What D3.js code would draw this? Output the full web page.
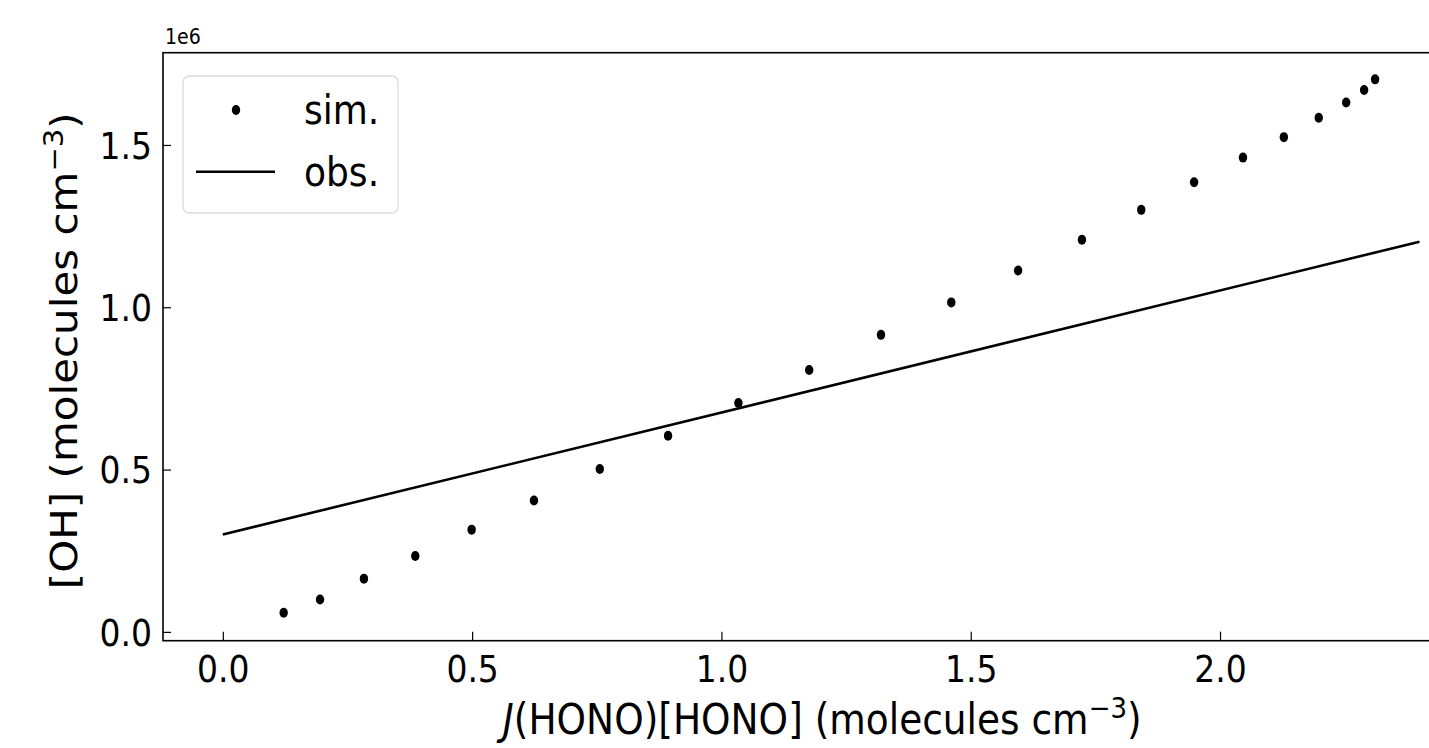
<!DOCTYPE html>
<html>
<head>
<meta charset="utf-8">
<script src="https://cdn.jsdelivr.net/npm/d3@7"></script>
<style>
	body { margin: 0; background: #fff; }
	svg { display: block; }
	text { font-family: "DejaVu Sans", sans-serif; fill: #000; }
	.domain { display: none; }
	.tick line { stroke: #000; stroke-width: 1.2; }
</style>
</head>
<body>
<script>

// Simulated OH vs J(HONO)[HONO]
var simX = [0.122, 0.195, 0.283, 0.386, 0.499, 0.624, 0.756, 0.893, 1.034, 1.176, 1.320,
	1.461, 1.595, 1.723, 1.842, 1.948, 2.046, 2.128, 2.198, 2.253, 2.289, 2.311];
var simY = [0.059e6, 0.100e6, 0.164e6, 0.234e6, 0.315e6, 0.405e6, 0.502e6, 0.604e6, 0.705e6,
	0.807e6, 0.915e6, 1.015e6, 1.113e6, 1.208e6, 1.300e6, 1.385e6, 1.461e6, 1.524e6,
	1.584e6, 1.631e6, 1.669e6, 1.702e6];

// Observed fit line
var obsX = [0.0, 2.4];
var obsY = [0.300e6, 1.202e6];

var xTicks = [0.0, 0.5, 1.0, 1.5, 2.0];
var yTicks = [0.0, 0.5e6, 1.0e6, 1.5e6];
var legendLabels = ["sim.", "obs."];

var W = 1429, H = 748;
var plot = { left: 163, right: 1479.3, top: 52.7, bottom: 640.7 };
var stretch = 1.12; // picture is a bit taller than wide

var svg = d3.select("body").append("svg").attr("width", W).attr("height", H);

// 5% margins like matplotlib
var allX = simX.concat(obsX), allY = simY.concat(obsY);
var xr = d3.extent(allX), yr = d3.extent(allY);
var xpad = (xr[1] - xr[0]) * 0.05, ypad = (yr[1] - yr[0]) * 0.05;

var x = d3.scaleLinear().domain([xr[0] - xpad, xr[1] + xpad]).range([plot.left, plot.right]);
var y = d3.scaleLinear().domain([yr[0] - ypad - 0.004e6, yr[1] + ypad]).range([plot.bottom, plot.top]);

svg.append("clipPath").attr("id", "clip").append("rect")
	.attr("x", plot.left).attr("y", plot.top)
	.attr("width", plot.right - plot.left).attr("height", plot.bottom - plot.top);

// Axes (ticks inward)
var xAxis = d3.axisBottom(x).tickValues(xTicks).tickSize(-9).tickFormat(d3.format(".1f"));
var gx = svg.append("g").attr("transform", "translate(0," + plot.bottom + ")").call(xAxis);
gx.selectAll("text").attr("y", null).attr("dy", null)
	.style("font-size", "33px")
	.attr("transform", "translate(0,41) scale(1," + stretch + ")");

var yAxis = d3.axisLeft(y).tickValues(yTicks).tickSize(-8).tickFormat(function(d) { return (d / 1e6).toFixed(1); });
var gy = svg.append("g").attr("transform", "translate(" + plot.left + ",0)").call(yAxis);
gy.selectAll("text").attr("x", null).attr("dy", "0.36em")
	.style("font-size", "33px")
	.attr("transform", "translate(-11,0) scale(1," + stretch + ")");

// Spines
svg.append("rect").attr("x", plot.left).attr("y", plot.top)
	.attr("width", plot.right - plot.left).attr("height", plot.bottom - plot.top)
	.attr("fill", "none").attr("stroke", "#000").attr("stroke-width", 1.6);

// Offset text
svg.append("text").attr("transform", "translate(165,44) scale(1," + stretch + ")")
	.style("font-size", "19px").text("1e6");

// Obs line
var line = d3.line().x(function(d) { return x(d[0]); }).y(function(d) { return y(d[1]); });
svg.append("path").datum(d3.zip(obsX, obsY)).attr("clip-path", "url(#clip)")
	.attr("d", line).attr("fill", "none").attr("stroke", "#000").attr("stroke-width", 2.6);

// Sim points
svg.append("g").attr("clip-path", "url(#clip)").selectAll("ellipse")
	.data(d3.zip(simX, simY)).enter().append("ellipse")
	.attr("cx", function(d) { return x(d[0]); }).attr("cy", function(d) { return y(d[1]); })
	.attr("rx", 4.2).attr("ry", 5).attr("fill", "#000");

// Axis labels
var xl = svg.append("text").attr("text-anchor", "middle")
	.attr("transform", "translate(" + ((plot.left + plot.right) / 2 + 1) + ",734) scale(1," + stretch + ")")
	.style("font-size", "37.5px");
xl.append("tspan").style("font-style", "italic").text("J");
xl.append("tspan").text("(HONO)[HONO] (molecules cm");
xl.append("tspan").attr("dy", -14).style("font-size", "26px").text("\u22123");
xl.append("tspan").attr("dy", 14).text(")");

var yl = svg.append("text").attr("text-anchor", "middle")
	.attr("transform", "translate(77," + ((plot.top + plot.bottom) / 2 + 4) + ") rotate(-90) scale(" + stretch + ",1)")
	.style("font-size", "37.5px");
yl.append("tspan").text("[OH] (molecules cm");
yl.append("tspan").attr("dy", -14).style("font-size", "26px").text("\u22123");
yl.append("tspan").attr("dy", 14).text(")");

// Legend
var legend = svg.append("g");
legend.append("rect").attr("x", 183).attr("y", 76).attr("width", 215).attr("height", 137)
	.attr("rx", 6).attr("fill", "#fff").attr("fill-opacity", 0.8)
	.attr("stroke", "#dcdcdc").attr("stroke-width", 1.3);
legend.append("ellipse").attr("cx", 236).attr("cy", 110).attr("rx", 4.2).attr("ry", 5).attr("fill", "#000");
legend.append("line").attr("x1", 196).attr("x2", 275).attr("y1", 171.7).attr("y2", 171.7)
	.attr("stroke", "#000").attr("stroke-width", 2.6);
legend.selectAll(".legText").data(legendLabels).enter().append("text").classed("legText", true)
	.attr("transform", function(d, i) { return "translate(304," + (124 + i * 62) + ") scale(1," + stretch + ")"; })
	.style("font-size", "36px").text(function(d) { return d; });

</script>
</body>
</html>
